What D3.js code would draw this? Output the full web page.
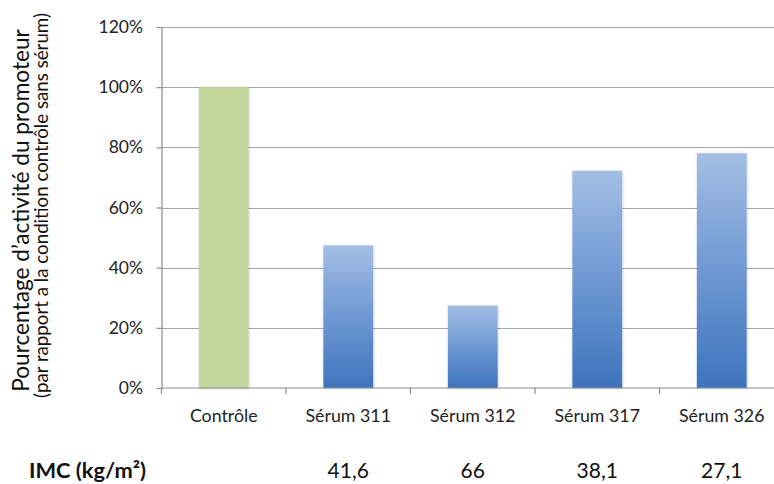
<!DOCTYPE html>
<html>
<head>
<meta charset="utf-8">
<script src="https://cdn.jsdelivr.net/npm/d3@7"></script>
<style>
  html, body { margin: 0; padding: 0; background: #fff; }
  svg { display: block; font-family: Lato, "Open Sans", sans-serif; }
</style>
</head>
<body>
<svg id="chart" width="774" height="484"></svg>
<script>
// Promoter activity per condition, relative to the serum-free control
const categories = ["Contrôle", "Sérum 311", "Sérum 312", "Sérum 317", "Sérum 326"];
const activity = [1.00, 0.474, 0.274, 0.722, 0.780];
const bmiLabels = ["", "41,6", "66", "38,1", "27,1"];
const yTicks = [0, 0.2, 0.4, 0.6, 0.8, 1.0, 1.2];
const yTitle = "Pourcentage d\u2019activité du promoteur";
const ySubtitle = "(par rapport a la condition contrôle sans sérum)";
const bmiTitle = "IMC (kg/m\u00b2)";

const svg = d3.select("#chart");
const plotLeft = 161.5, plotRight = 784, plotTop = 27, plotBottom = 388;

const x = d3.scaleBand().domain(categories).range([plotLeft, plotRight])
  .paddingInner(0.6).paddingOuter(0.3);
const y = d3.scaleLinear().domain([0, 1.2]).range([plotBottom, plotTop]);

const defs = svg.append("defs");
const grad = defs.append("linearGradient").attr("id", "blueBar")
  .attr("x1", 0).attr("y1", 0).attr("x2", 0).attr("y2", 1);
grad.append("stop").attr("offset", "0%").attr("stop-color", "#a3bee4");
grad.append("stop").attr("offset", "50%").attr("stop-color", "#6f98d2");
grad.append("stop").attr("offset", "100%").attr("stop-color", "#3d74bd");
const shadow = defs.append("filter").attr("id", "barShadow")
  .attr("x", "-20%").attr("y", "-5%").attr("width", "140%").attr("height", "110%");
shadow.append("feDropShadow").attr("dx", 0.5).attr("dy", 0.5)
  .attr("stdDeviation", 1.2).attr("flood-color", "#000").attr("flood-opacity", 0.22);

// Horizontal gridlines
svg.append("g").selectAll("line").data(yTicks.filter(d => d > 0)).join("line")
  .attr("x1", plotLeft).attr("x2", 774)
  .attr("y1", d => Math.round(y(d)) + 0.5).attr("y2", d => Math.round(y(d)) + 0.5)
  .attr("stroke", "#a6a6a6").attr("stroke-width", 1.2);

// Bars
svg.append("g").selectAll("rect").data(categories).join("rect")
  .attr("x", d => x(d))
  .attr("width", x.bandwidth())
  .attr("y", (d, i) => y(activity[i]))
  .attr("height", (d, i) => y(0) - y(activity[i]))
  .attr("fill", (d, i) => i === 0 ? "#c3d69b" : "url(#blueBar)")
  .attr("filter", "url(#barShadow)");

// Y axis
const yAxis = svg.append("g").attr("transform", `translate(${plotLeft},0)`)
  .call(d3.axisLeft(y).tickValues(yTicks).tickFormat(d3.format(".0%"))
    .tickSize(5).tickPadding(13.5));
yAxis.select(".domain").attr("stroke", "#8c8c8c").attr("stroke-width", 1.2);
yAxis.selectAll(".tick line").attr("stroke", "#8c8c8c").attr("stroke-width", 1.2);
yAxis.selectAll(".tick text").attr("font-size", 17.5).attr("fill", "#222")
  .attr("font-family", "Lato, sans-serif");

// X axis with tick marks at the category boundaries
const xAxis = svg.append("g").attr("transform", `translate(0,${plotBottom})`);
xAxis.append("line").attr("x1", plotLeft).attr("x2", 774).attr("y1", 0).attr("y2", 0)
  .attr("stroke", "#8c8c8c").attr("stroke-width", 1.2);
const bounds = d3.range(categories.length).map(i => x(categories[i]) - x.step() * 0.3);
xAxis.selectAll("line.tk").data(bounds).join("line").attr("class", "tk")
  .attr("x1", d => d).attr("x2", d => d).attr("y1", 0).attr("y2", 6)
  .attr("stroke", "#8c8c8c").attr("stroke-width", 1.2);
xAxis.selectAll("text").data(categories).join("text")
  .attr("x", d => x(d) + x.bandwidth() / 2).attr("y", 33.5)
  .attr("text-anchor", "middle").attr("font-size", 17.8).attr("fill", "#222")
  .text(d => d);

// BMI row
svg.append("text").attr("x", 29).attr("y", 478)
  .attr("font-size", 21.8).attr("font-weight", "bold").attr("fill", "#111")
  .text(bmiTitle);
svg.append("g").selectAll("text").data(categories).join("text")
  .attr("x", d => x(d) + x.bandwidth() / 2).attr("y", 478)
  .attr("text-anchor", "middle").attr("font-size", 21).attr("fill", "#111")
  .text((d, i) => bmiLabels[i]);

// Y axis titles, sized to span their measured lengths
function fitRotated(text, cx, cy, length, base) {
  const t = svg.append("text").attr("transform", `translate(${cx},${cy}) rotate(-90)`)
    .attr("text-anchor", "middle").attr("font-size", base).attr("fill", "#111").text(text);
  const w = t.node().getComputedTextLength();
  t.attr("font-size", base * length / w);
  return t;
}
fitRotated(yTitle, 29, 210.5, 363, 20);
fitRotated(ySubtitle, 48, 205.5, 385, 16);
</script>
</body>
</html>
